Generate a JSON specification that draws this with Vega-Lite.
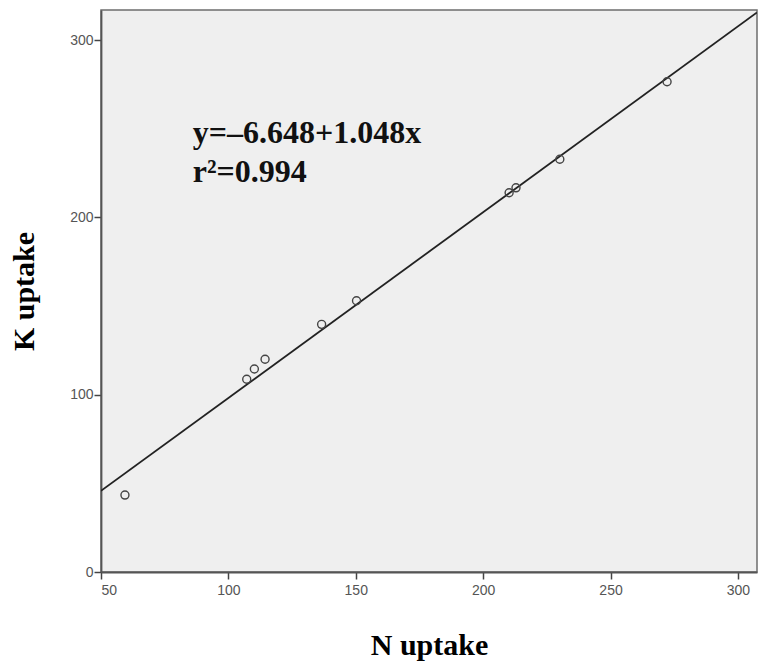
{
  "$schema": "https://vega.github.io/schema/vega-lite/v6.json",
  "width": 656,
  "height": 562,
  "autosize": "none",
  "padding": {"left": 101, "top": 10, "right": 4, "bottom": 93},
  "background": "white",
  "config": {
    "view": {"fill": "#efefef", "stroke": "#6e6e6e", "strokeWidth": 1.5}
  },
  "datasets": {
    "pts": [
      {"N": 59.4, "K": 43.4},
      {"N": 107.2, "K": 108.7},
      {"N": 110.2, "K": 114.5},
      {"N": 114.4, "K": 120.0},
      {"N": 136.6, "K": 139.7},
      {"N": 150.3, "K": 153.0},
      {"N": 210.2, "K": 213.9},
      {"N": 212.9, "K": 216.7},
      {"N": 230.1, "K": 232.8},
      {"N": 272.2, "K": 276.5}
    ],
    "fit": [
      {"N": 50, "K": 45.75},
      {"N": 307.5, "K": 315.6}
    ],
    "labels": [
      {"N": 86, "K": 242, "t": "y=–6.648+1.048x"},
      {"N": 86, "K": 220, "t": "r²=0.994"}
    ]
  },
  "encoding": {
    "x": {
      "field": "N", "type": "quantitative",
      "scale": {"domain": [50, 307.5], "nice": false, "zero": false},
      "axis": {
        "title": "N uptake", "values": [50, 100, 150, 200, 250, 300],
        "grid": false, "domainColor": "#555", "domainWidth": 1.8,
        "tickColor": "#444", "tickWidth": 1.5, "tickSize": 7,
        "labelFont": "Liberation Sans Narrow, Liberation Sans", "labelFontSize": 14, "labelColor": "#555",
        "labelPadding": 4,
        "titleFont": "Liberation Serif", "titleFontSize": 30, "titleFontWeight": "bold", "titleColor": "#000",
        "titlePadding": 33
      }
    },
    "y": {
      "field": "K", "type": "quantitative",
      "scale": {"domain": [0, 317], "nice": false},
      "axis": {
        "title": "K uptake", "values": [0, 100, 200, 300],
        "grid": false, "domainColor": "#555", "domainWidth": 1.8,
        "tickColor": "#444", "tickWidth": 1.5, "tickSize": 7,
        "labelFont": "Liberation Sans Narrow, Liberation Sans", "labelFontSize": 14, "labelColor": "#555",
        "labelPadding": 1,
        "titleFont": "Liberation Serif", "titleFontSize": 30, "titleFontWeight": "bold", "titleColor": "#000",
        "titlePadding": 30
      }
    }
  },
  "layer": [
    {
      "data": {"name": "fit"},
      "mark": {"type": "line", "color": "#222", "strokeWidth": 1.8, "clip": true}
    },
    {
      "data": {"name": "pts"},
      "mark": {"type": "point", "shape": "circle", "filled": false, "size": 64, "stroke": "#444", "strokeWidth": 1.4, "opacity": 1}
    },
    {
      "data": {"name": "labels"},
      "mark": {"type": "text", "align": "left", "baseline": "alphabetic", "font": "Liberation Serif", "fontSize": 32, "fontWeight": "bold", "color": "#111"},
      "encoding": {"text": {"field": "t"}}
    }
  ]
}
